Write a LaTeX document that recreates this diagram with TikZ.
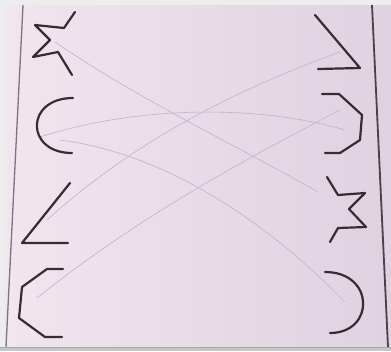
\documentclass[tikz,border=0pt]{standalone}
\usepackage{tikz}
\definecolor{frameg}{HTML}{EDEDED}
\definecolor{paperL}{HTML}{F1E5EE}
\definecolor{paperR}{HTML}{DFD2E1}
\definecolor{ink}{HTML}{3A2B33}
\definecolor{pencilc}{HTML}{C0B1D0}
\definecolor{marginc}{HTML}{7E7480}
\tikzset{
  shapeline/.style={draw=ink, line width=2.2pt, line join=round, line cap=round},
  pencil/.style={draw=pencilc, line width=0.6pt},
  marginline/.style={draw=marginc, line width=1.3pt},
  rightline/.style={draw=ink!90, line width=1.8pt}
}
\begin{document}
\begin{tikzpicture}[x=1pt,y=-1pt]
\useasboundingbox (0,0) rectangle (391,351);
% background
\fill[frameg] (0,0) rectangle (391,351);
\shade[left color=paperL, right color=paperR] (5,5) rectangle (391,347);
\fill[gray!45] (0,347) rectangle (391,351);
\draw[gray!70, line width=0.8pt] (0,347.5) -- (391,347.5);
% margin lines
\coordinate (ml1) at (23,5); \coordinate (ml2) at (6,347);
\coordinate (mr1) at (372,5); \coordinate (mr2) at (388,347);
\draw[marginline] (ml1) -- (ml2);
\draw[rightline] (mr1) -- (mr2);
% pencil matching lines
\coordinate (a1) at (55,42);  \coordinate (a2) at (318,192);
\coordinate (b1) at (40,137); \coordinate (b2) at (345,130);
\coordinate (c1) at (47,220); \coordinate (c2) at (340,52);
\coordinate (d1) at (37,298); \coordinate (d2) at (340,110);
\coordinate (e1) at (60,140); \coordinate (e2) at (345,302);
\draw[pencil] (a1) .. controls (140,100) and (230,142) .. (a2);
\draw[pencil] (b1) .. controls (140,105) and (260,105) .. (b2);
\draw[pencil] (c1) .. controls (135,140) and (240,88) .. (c2);
\draw[pencil] (d1) .. controls (137,218) and (240,162) .. (d2);
\draw[pencil] (e1) .. controls (155,152) and (255,210) .. (e2);
% left column shapes
\draw[shapeline] (75,12) -- (64,28) -- (35,25) -- (50,40) -- (33,57) -- (58,52) -- (72,75);
\draw[shapeline] (73,98) .. controls (25,98) and (25,153) .. (72,153);
\draw[shapeline] (70,183) -- (22,243) -- (68,243);
\draw[shapeline] (63,269) -- (47,269) -- (22,287) -- (19,318) -- (45,337) -- (62,337);
% right column shapes
\draw[shapeline] (315,15) -- (360,68) -- (318,69);
\draw[shapeline] (322,94) -- (339,94) -- (362,115) -- (360,140) -- (340,153) -- (325,153);
\draw[shapeline] (327,177) -- (338,195) -- (365,193) -- (349,209) -- (366,227) -- (338,228) -- (330,242);
\draw[shapeline] (325,272) .. controls (375,272) and (375,333) .. (330,333);
\end{tikzpicture}
\end{document}
